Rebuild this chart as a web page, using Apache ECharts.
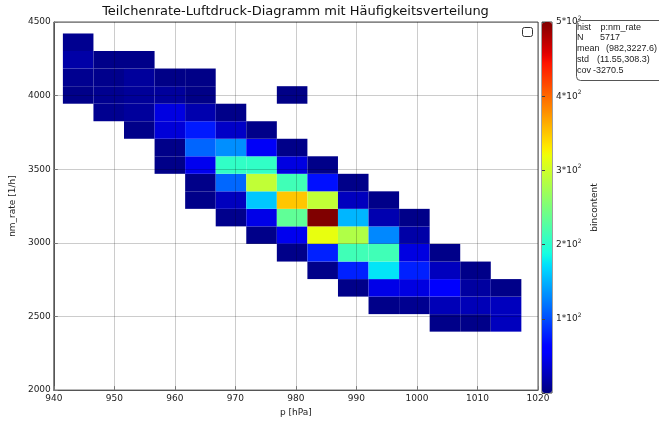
<!DOCTYPE html>
<html>
<head>
<meta charset="utf-8">
<script src="https://cdn.jsdelivr.net/npm/echarts@6/dist/echarts.min.js"></script>
<style>
    html, body { margin: 0; padding: 0; background: #fff; }
    #main { width: 659px; height: 422px; }
</style>
</head>
<body>
<div id="main"></div>
<script>
// bin edges of the 2D histogram
var pEdges = [941.5, 946.55, 951.6, 956.65, 961.7, 966.75, 971.8, 976.85, 981.9,
              986.95, 992.0, 997.05, 1002.1, 1007.15, 1012.2, 1017.25];
var rateEdges = [2397, 2516, 2635, 2754, 2873, 2993, 3112, 3231, 3350, 3469,
                 3588, 3707, 3826, 3945, 4064, 4184, 4303, 4422];

// per pressure bin: first filled rate bin, then bin contents going up (null = empty)
var firstRow = [13, 12, 11, 9, 7, 6, 5, 4, 3, 2, 1, 1, 0, 0, 0];
var colCounts = [
    [4, 7, 17, 7],
    [7, 7, 5, 4],
    [4, 12, 11, 12, 4],
    [4, 4, 38, 42, 12, 3],
    [4, 4, 48, 112, 75, 20, 3, 3],
    [5, 27, 113, 205, 133, 31, 4],
    [4, 45, 160, 292, 205, 52, 4],
    [4, 48, 233, 350, 214, 42, 4, null, null, 3],
    [4, 78, 316, 500, 292, 70, 4],
    [4, 78, 214, 282, 152, 27, 4],
    [4, 45, 175, 214, 129, 21, 4],
    [7, 42, 78, 42, 17, 4],
    [4, 24, 58, 27, 4],
    [4, 24, 14, 4],
    [27, 27, 4]
];
var statLabels = ['hist', 'N', 'mean', 'std', 'cov'];
var statValues = ['p:nm_rate', '5717', '(982,3227.6)', '(11.55,308.3)', '-3270.5'];

// cells for the custom series: [p0, p1, rate0, rate1, count]
var cells = [];
colCounts.forEach(function (col, c) {
    col.forEach(function (v, k) {
        if (v === null) return;
        var r = firstRow[c] + k;
        cells.push([pEdges[c], pEdges[c + 1], rateEdges[r], rateEdges[r + 1], v]);
    });
});

// jet colormap
var jetR = [[0, 0], [0.35, 0], [0.66, 1], [0.89, 1], [1, 0.5]];
var jetG = [[0, 0], [0.125, 0], [0.375, 1], [0.64, 1], [0.91, 0], [1, 0]];
var jetB = [[0, 0.5], [0.11, 1], [0.34, 1], [0.65, 0], [1, 0]];
function interp(pts, t) {
    for (var i = 1; i < pts.length; i++) {
        if (t <= pts[i][0]) {
            var a = pts[i - 1], b = pts[i];
            return a[1] + (b[1] - a[1]) * (t - a[0]) / (b[0] - a[0]);
        }
    }
    return pts[pts.length - 1][1];
}
var jetColors = [];
for (var k = 0; k <= 64; k++) {
    var t = k / 64;
    jetColors.push('rgb(' + Math.round(255 * interp(jetR, t)) + ',' +
        Math.round(255 * interp(jetG, t)) + ',' + Math.round(255 * interp(jetB, t)) + ')');
}

var font = 'DejaVu Sans';
var chart = echarts.init(document.getElementById('main'));

// stats box text (value columns are not aligned in the original)
var valueX = [600.5, 600, 606, 597, 593];
var statTexts = [];
statLabels.forEach(function (l, i) {
    var y = 27.3 + i * 10.7;
    statTexts.push({ type: 'text', x: 577, y: y, z: 10,
        style: { text: l, font: '9px "Liberation Sans"', fill: '#222', verticalAlign: 'middle' } });
    statTexts.push({ type: 'text', x: valueX[i], y: y, z: 10,
        style: { text: statValues[i], font: '9px "Liberation Sans"', fill: '#222', verticalAlign: 'middle' } });
});

var option = {
    animation: false,
    textStyle: { fontFamily: font },
    grid: [
        { left: 53, right: 121, top: 22, bottom: 28, show: true, borderColor: '#555', borderWidth: 1 },
        { left: 542, width: 10, top: 22, height: 371, show: true, borderColor: '#444', borderWidth: 1 }
    ],
    xAxis: [{
        type: 'value', min: 940, max: 1020, interval: 10, z: 5,
        name: 'p [hPa]', nameLocation: 'middle', nameGap: 16,
        nameTextStyle: { fontSize: 9, color: '#222' },
        axisLine: { lineStyle: { color: '#555' } },
        axisTick: { inside: true, length: 4, lineStyle: { color: '#777' } },
        axisLabel: { fontSize: 9, color: '#222', margin: 4, formatter: function (v) { return String(v); } },
        splitLine: { show: true, lineStyle: { color: 'rgba(0,0,0,0.2)', width: 1 } }
    }, {
        gridIndex: 1, type: 'value', show: false
    }],
    yAxis: [{
        type: 'value', min: 2000, max: 4500, interval: 500, z: 5,
        name: 'nm_rate [1/h]', nameLocation: 'middle', nameGap: 29, nameRotate: 90,
        nameTextStyle: { fontSize: 9, color: '#222' },
        axisLine: { lineStyle: { color: '#555' } },
        axisTick: { inside: true, length: 4, lineStyle: { color: '#777' } },
        axisLabel: { fontSize: 9, color: '#222', margin: 3, formatter: function (v) { return String(v); } },
        splitLine: { show: true, lineStyle: { color: 'rgba(0,0,0,0.2)', width: 1 } }
    }, {
        gridIndex: 1, type: 'value', position: 'right', min: 0, max: 500, interval: 100, z: 5,
        name: 'bincontent', nameLocation: 'middle', nameGap: 38, nameRotate: 90,
        nameTextStyle: { fontSize: 9, color: '#222' },
        axisLine: { show: false },
        axisTick: { show: true, length: 3, lineStyle: { color: '#444' } },
        splitLine: { show: false },
        axisLabel: {
            margin: 4, color: '#222', fontSize: 9,
            formatter: function (v) {
                return v === 0 ? '' : '{a|' + (v / 100) + '*10}{s|2}';
            },
            rich: {
                a: { fontSize: 9, color: '#222' },
                s: { fontSize: 6, color: '#222', padding: [0, 0, 7, 0] }
            }
        }
    }],
    visualMap: {
        type: 'continuous', min: 0, max: 500, dimension: 4, seriesIndex: 0,
        left: 542, top: 22, itemWidth: 10, itemHeight: 371, padding: 0,
        calculable: false, realtime: false, hoverLink: false,
        inRange: { color: jetColors }
    },
    series: [{
        type: 'custom',
        xAxisIndex: 0, yAxisIndex: 0,
        encode: { x: [0, 1], y: [2, 3] },
        data: cells,
        renderItem: function (params, api) {
            var tl = api.coord([api.value(0), api.value(3)]);
            var br = api.coord([api.value(1), api.value(2)]);
            return {
                type: 'rect',
                shape: { x: tl[0], y: tl[1], width: br[0] - tl[0], height: br[1] - tl[1] },
                style: { fill: api.visual('color') }
            };
        }
    }],
    graphic: [
        { type: 'text', x: 295.5, y: 12,
          style: { text: 'Teilchenrate-Luftdruck-Diagramm mit Häufigkeitsverteilung',
                   font: '13px "DejaVu Sans"', fill: '#111', align: 'center', verticalAlign: 'middle' } },
        { type: 'rect', x: 522.5, y: 27.5, shape: { width: 10, height: 9, r: 2 },
          style: { fill: '#fff', stroke: '#333', lineWidth: 1 } },
        { type: 'rect', x: 576.5, y: 20.5, shape: { width: 100, height: 60, r: 4 }, z: 9,
          style: { fill: 'rgba(255,255,255,0.6)', stroke: '#555', lineWidth: 1 } }
    ].concat(statTexts)
};
chart.setOption(option);
</script>
</body>
</html>
